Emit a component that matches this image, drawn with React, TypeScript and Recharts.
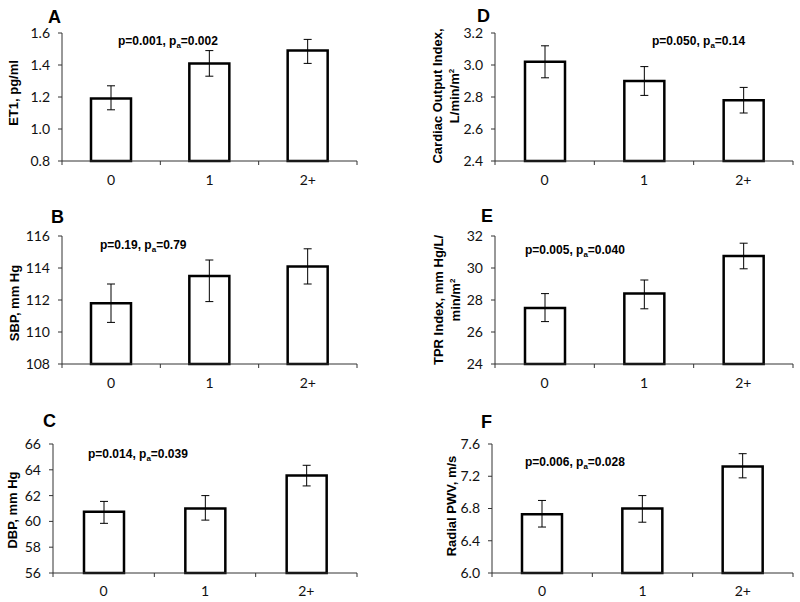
import React from "react";
import { BarChart, Bar, XAxis, YAxis, ErrorBar } from "recharts";

// groups on the x axis
const groups = ["0", "1", "2+"];

// A: ET1
const et1Mean = [1.19, 1.41, 1.49];
const et1Low = [1.12, 1.33, 1.41];
const et1High = [1.27, 1.49, 1.56];
const et1Ticks = [0.8, 1.0, 1.2, 1.4, 1.6];

// B: SBP
const sbpMean = [111.8, 113.5, 114.1];
const sbpLow = [110.6, 111.9, 113.0];
const sbpHigh = [113.0, 114.5, 115.2];
const sbpTicks = [108, 110, 112, 114, 116];

// C: DBP
const dbpMean = [60.75, 61.0, 63.55];
const dbpLow = [59.85, 60.1, 62.75];
const dbpHigh = [61.55, 62.0, 64.35];
const dbpTicks = [56, 58, 60, 62, 64, 66];

// D: cardiac output index
const coMean = [3.02, 2.9, 2.78];
const coLow = [2.92, 2.81, 2.7];
const coHigh = [3.12, 2.99, 2.86];
const coTicks = [2.4, 2.6, 2.8, 3.0, 3.2];

// E: TPR index
const tprMean = [27.5, 28.4, 30.75];
const tprLow = [26.65, 27.45, 29.95];
const tprHigh = [28.4, 29.25, 31.55];
const tprTicks = [24, 26, 28, 30, 32];

// F: radial PWV
const pwvMean = [6.73, 6.8, 7.32];
const pwvLow = [6.57, 6.63, 7.18];
const pwvHigh = [6.9, 6.96, 7.48];
const pwvTicks = [6.0, 6.4, 6.8, 7.2, 7.6];

// x positions: integers are group edges (tick marks), halves are group centres (labels)
const xTicks = [0, 0.5, 1, 1.5, 2, 2.5, 3];

const boldFont = "'Liberation Sans', Arial, sans-serif";
const tickFont = "Lato, 'Open Sans', sans-serif";

const buildRows = (mean: number[], low: number[], high: number[]) =>
  groups.map((g, i) => ({
    x: i + 0.5,
    label: g,
    value: mean[i],
    err: [mean[i] - low[i], high[i] - mean[i]],
  }));

const makeXTick = (gap: number) => (props: any) => {
  const { x, y, payload } = props;
  const v = payload.value as number;
  if (Number.isInteger(v)) {
    return <line x1={x} x2={x} y1={y} y2={y + 4} stroke="#333" strokeWidth={1} />;
  }
  return (
    <text x={x} y={y + gap} textAnchor="middle" fill="#111" fontSize={14} fontFamily={tickFont}>
      {groups[Math.floor(v)]}
    </text>
  );
};

interface PanelProps {
  left: number;
  top: number;
  height: number;
  margin: { top: number; right: number; bottom: number; left: number };
  xHeight: number;
  xGap: number;
  rows: ReturnType<typeof buildRows>;
  ticks: number[];
  digits: number;
}

const Panel: React.FC<PanelProps> = ({ left, top, height, margin, xHeight, xGap, rows, ticks, digits }) => (
  <div style={{ position: "absolute", left, top }}>
    <BarChart width={400} height={height} data={rows} margin={margin}>
      <XAxis
        type="number"
        dataKey="x"
        domain={[0, 3]}
        ticks={xTicks}
        interval={0}
        tickLine={false}
        tickSize={0}
        tickMargin={0}
        axisLine={{ stroke: "#333" }}
        height={xHeight}
        tick={makeXTick(xGap)}
      />
      <YAxis
        type="number"
        domain={[ticks[0], ticks[ticks.length - 1]]}
        ticks={ticks}
        interval={0}
        tickFormatter={(v: number) => v.toFixed(digits)}
        axisLine={{ stroke: "#333" }}
        tickLine={{ stroke: "#333" }}
        tickSize={4}
        tickMargin={8}
        width={40}
        tick={{ fill: "#111", fontSize: 14, fontFamily: tickFont }}
      />
      <Bar dataKey="value" barSize={40} fill="#fff" stroke="#000" strokeWidth={2.5} isAnimationActive={false}>
        <ErrorBar dataKey="err" width={4} stroke="#000" strokeWidth={1} isAnimationActive={false} />
      </Bar>
    </BarChart>
  </div>
);

const Letter: React.FC<{ x: number; y: number; text: string }> = ({ x, y, text }) => (
  <div style={{ position: "absolute", left: x, top: y, fontFamily: boldFont, fontWeight: "bold", fontSize: 18, lineHeight: "18px" }}>
    {text}
  </div>
);

const PText: React.FC<{ x: number; y: number; p: string; pa: string }> = ({ x, y, p, pa }) => (
  <div style={{ position: "absolute", left: x, top: y, fontFamily: boldFont, fontWeight: "bold", fontSize: 12, lineHeight: "14px", whiteSpace: "nowrap" }}>
    p={p}, p<span style={{ fontSize: 8, position: "relative", top: 3 }}>a</span>={pa}
  </div>
);

const YTitle: React.FC<{ cx: number; cy: number; lines: React.ReactNode[] }> = ({ cx, cy, lines }) => (
  <div
    style={{
      position: "absolute",
      left: cx,
      top: cy,
      transform: "translate(-50%, -50%) rotate(-90deg)",
      fontFamily: boldFont,
      fontWeight: "bold",
      fontSize: 13,
      lineHeight: "14px",
      textAlign: "center",
      whiteSpace: "nowrap",
    }}
  >
    {lines.map((l, i) => (
      <div key={i}>{l}</div>
    ))}
  </div>
);

const sq = <sup style={{ fontSize: 8 }}>2</sup>;

export default function App() {
  return (
    <div style={{ position: "absolute", left: 0, top: 0, width: 800, height: 602, background: "#fff", overflow: "hidden" }}>
      <Panel left={0} top={0} height={200} margin={{ top: 33, right: 43, bottom: 9, left: 22 }} xHeight={30} xGap={24}
        rows={buildRows(et1Mean, et1Low, et1High)} ticks={et1Ticks} digits={1} />
      <Panel left={400} top={0} height={200} margin={{ top: 33, right: 7, bottom: 9, left: 55 }} xHeight={30} xGap={24}
        rows={buildRows(coMean, coLow, coHigh)} ticks={coTicks} digits={1} />
      <Panel left={0} top={200} height={200} margin={{ top: 36, right: 43, bottom: 6, left: 22 }} xHeight={30} xGap={24}
        rows={buildRows(sbpMean, sbpLow, sbpHigh)} ticks={sbpTicks} digits={0} />
      <Panel left={400} top={200} height={200} margin={{ top: 36, right: 7, bottom: 6, left: 55 }} xHeight={30} xGap={24}
        rows={buildRows(tprMean, tprLow, tprHigh)} ticks={tprTicks} digits={0} />
      <Panel left={0} top={400} height={202} margin={{ top: 44, right: 43, bottom: 0, left: 13 }} xHeight={29} xGap={23}
        rows={buildRows(dbpMean, dbpLow, dbpHigh)} ticks={dbpTicks} digits={0} />
      <Panel left={400} top={400} height={202} margin={{ top: 44, right: 7, bottom: 0, left: 52 }} xHeight={29} xGap={23}
        rows={buildRows(pwvMean, pwvLow, pwvHigh)} ticks={pwvTicks} digits={1} />

      <Letter x={48} y={8} text="A" />
      <Letter x={477} y={7} text="D" />
      <Letter x={51} y={208} text="B" />
      <Letter x={481} y={207} text="E" />
      <Letter x={43} y={412} text="C" />
      <Letter x={481} y={413} text="F" />

      <PText x={118} y={34} p="0.001" pa="0.002" />
      <PText x={652} y={34} p="0.050" pa="0.14" />
      <PText x={100} y={238} p="0.19" pa="0.79" />
      <PText x={525} y={243} p="0.005" pa="0.040" />
      <PText x={88} y={447} p="0.014" pa="0.039" />
      <PText x={525} y={455} p="0.006" pa="0.028" />

      <YTitle cx={14} cy={93} lines={["ET1, pg/ml"]} />
      <YTitle cx={15} cy={303} lines={["SBP, mm Hg"]} />
      <YTitle cx={13} cy={510} lines={["DBP, mm Hg"]} />
      <YTitle cx={447} cy={96} lines={["Cardiac Output Index,", <span key="u">L/min/m{sq}</span>]} />
      <YTitle cx={448} cy={300} lines={["TPR Index, mm Hg/L/", <span key="u">min/m{sq}</span>]} />
      <YTitle cx={452} cy={506} lines={["Radial PWV, m/s"]} />
    </div>
  );
}
